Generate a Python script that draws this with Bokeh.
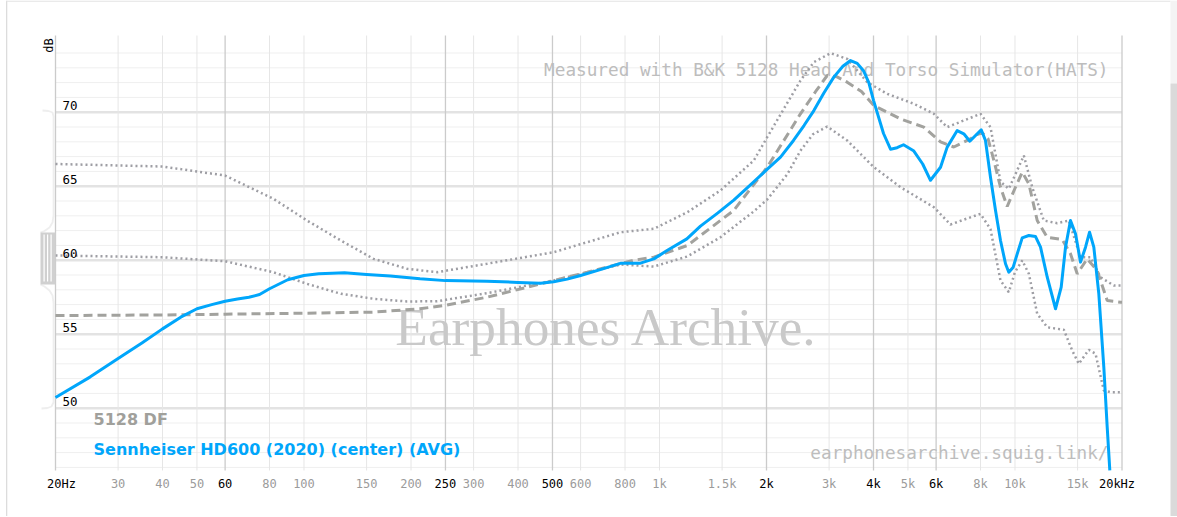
import math
from bokeh.plotting import figure
from bokeh.models import (Range1d, Label, LabelSet, ColumnDataSource,
                          PolyAnnotation, BoxAnnotation)
from bokeh.core.properties import value
from bokeh.embed import file_html
from bokeh.resources import INLINE

# ---------------- data ----------------
hd600_freq = [20, 25, 30, 35, 40, 45, 50, 55, 60, 65, 70, 75, 80, 90, 100, 110, 120, 130,
              150, 175, 212, 250, 327, 400, 463, 504, 550, 600, 700, 780, 884, 964, 1050,
              1194, 1304, 1460, 1618, 1838, 2000, 2190, 2382, 2550, 2718, 2900, 3093, 3280,
              3447, 3600, 3749, 3880, 4000, 4268, 4466, 4660, 4858, 5183, 5500, 5785, 6174,
              6446, 6878, 7178, 7464, 7744, 8036, 8260, 8533, 8816, 9105, 9405, 9608, 9886,
              10146, 10481, 10940, 11424, 11800, 12324, 13003, 13490, 13872, 14326, 14800,
              15288, 15792, 16208, 16664, 17212, 17778, 18174, 18482]
hd600_db = [50.72, 52.1, 53.36, 54.4, 55.36, 56.15, 56.72, 57.0, 57.23, 57.38, 57.5, 57.68,
            58.07, 58.68, 58.97, 59.08, 59.12, 59.15, 59.03, 58.93, 58.74, 58.62, 58.58, 58.5,
            58.45, 58.54, 58.72, 58.97, 59.45, 59.8, 59.8, 60.09, 60.65, 61.44, 62.3, 63.2,
            64.06, 65.27, 66.1, 66.96, 68.09, 69.1, 70.11, 71.3, 72.37, 73.1, 73.49, 73.3,
            72.8, 72.0, 70.8, 68.56, 67.5, 67.6, 67.8, 67.4, 66.5, 65.4, 66.28, 67.64, 68.76,
            68.54, 68.04, 68.43, 68.81, 68.09, 65.6, 63.36, 61.33, 59.76, 59.19, 59.53, 60.43,
            61.51, 61.67, 61.6, 60.88, 58.85, 56.72, 58.18, 60.88, 62.68, 61.78, 59.87, 60.88,
            61.89, 60.88, 57.73, 52.77, 48.7, 45.8]

target_freq = [20, 40, 60, 100, 157, 212, 250, 327, 463, 626, 847, 964, 1197, 1617, 2009,
               2492, 2750, 2964, 3150, 3373, 3700, 4010, 4764, 5540, 6174, 6728, 7496, 7700,
               8100, 8400, 8722, 9105, 9508, 10030, 10481, 10940, 11549, 12324, 13577, 14326,
               14964, 15965, 17030, 18174, 19806, 20000]
target_db = [56.26, 56.3, 56.35, 56.42, 56.49, 56.72, 56.95, 57.5, 58.4, 59.19, 60.0, 60.2,
             60.99, 63.36, 66.28, 69.89, 71.4, 72.48, 72.4, 72.03, 71.4, 70.45, 69.55, 68.99,
             68.0, 67.65, 68.2, 68.43, 68.6, 68.2, 66.74, 64.93, 63.63, 64.93, 65.95, 65.16,
             62.68, 61.55, 61.4, 60.43, 59.08, 60.09, 59.3, 57.27, 57.16, 57.16]

upper_freq = [20, 40, 60, 82, 102, 127, 157, 195, 237, 327, 504, 777, 964, 1197, 1484, 1842,
              2009, 2492, 2718, 3028, 3373, 3840, 4372, 5193, 5913, 6446, 7178, 7998, 8533,
              9105, 9608, 10590, 11180, 12052, 13146, 14172, 15288, 16310, 17398, 18966, 20000]
upper_db = [66.5, 66.33, 65.72, 64.15, 62.68, 61.33, 60.09, 59.42, 59.19, 59.76, 60.54, 61.89,
            62.12, 63.24, 64.71, 66.74, 68.31, 72.14, 73.38, 73.99, 73.6, 72.03, 71.24, 70.57,
            69.89, 68.99, 69.44, 69.89, 68.99, 65.3, 64.82, 67.07, 64.93, 62.68, 62.5, 62.68,
            60.2, 60.2, 58.85, 58.29, 58.29]

lower_freq = [20, 40, 60, 82, 102, 127, 157, 195, 237, 327, 504, 777, 964, 1197, 1484, 1842,
              2009, 2287, 2492, 2700, 2964, 3373, 4010, 4764, 5913, 6586, 7300, 7998, 8533,
              9105, 9608, 10000, 10481, 10940, 11549, 12324, 13720, 14486, 15120, 16130,
              16846, 17778, 18566, 20000]
lower_db = [60.32, 60.2, 59.93, 59.19, 58.4, 57.73, 57.39, 57.21, 57.23, 57.77, 58.63, 59.71,
            59.57, 60.25, 61.55, 63.3, 64.1, 65.8, 67.4, 68.5, 69.03, 68.09, 66.28, 64.93,
            63.58, 62.41, 62.8, 63.13, 62.1, 58.63, 57.84, 59.2, 59.98, 59.08, 56.38, 55.47,
            55.3, 53.9, 53.0, 53.95, 53.68, 51.2, 51.08, 51.08]

x_ticks = [20, 30, 40, 50, 60, 80, 100, 150, 200, 250, 300, 400, 500, 600, 800, 1000, 1500,
           2000, 3000, 4000, 5000, 6000, 8000, 10000, 15000, 20000]
x_tick_labels = ["20Hz", "30", "40", "50", "60", "80", "100", "150", "200", "250", "300", "400",
                 "500", "600", "800", "1k", "1.5k", "2k", "3k", "4k", "5k", "6k", "8k", "10k",
                 "15k", "20kHz"]
x_dark_ticks = [20, 60, 250, 500, 2000, 4000, 6000, 20000]
y_major_ticks = [50, 55, 60, 65, 70]
y_minor_ticks = [d for d in range(46, 75) if d % 5 != 0]
y_tick_labels = ["50", "55", "60", "65", "70"]

legend_target = "5128 DF"
legend_phone = "Sennheiser HD600 (2020) (center) (AVG)"

# ---------------- layout (page pixels) ----------------
W, H = 1177, 516
X20_PX, X20K_PX = 55.0, 1121.5          # where 20 Hz / 20 kHz sit
Y70_PX, PX_PER_DB = 111.7, 14.8          # where 70 dB sits, pixels per dB
TOP_PX, BOT_PX = 35.0, 470.0             # plot area top / bottom
DEC = (X20K_PX - X20_PX) / 3.0
x_start = 20 * 10 ** (-X20_PX / DEC)
x_end = 20000 * 10 ** ((W - X20K_PX) / DEC)
y_top = 70 + Y70_PX / PX_PER_DB
y_bottom = 70 - (H - Y70_PX) / PX_PER_DB
y_lo = 70 - (BOT_PX - Y70_PX) / PX_PER_DB
y_hi = 70 + (Y70_PX - TOP_PX) / PX_PER_DB


def sy(page_y):
    return H - page_y


# ---------------- style ----------------
BLUE = "#00a6fb"
DASH_GRAY = "#a2a29e"
DOT_GRAY = "#9e9ea4"
MONO_NAME = "DejaVu Sans Mono"
MONO = value(MONO_NAME)

p = figure(width=W, height=H, min_border=0,
           x_axis_type="log", x_range=Range1d(x_start, x_end),
           y_range=Range1d(y_bottom, y_top),
           x_axis_location=None, y_axis_location=None,
           toolbar_location=None, output_backend="svg",
           outline_line_color=None, background_fill_color="white", border_fill_color="white")
p.xgrid.visible = False
p.ygrid.visible = False

# page chrome: border lines and scrollbar
p.add_layout(BoxAnnotation(left=5.5, right=6.8, top=sy(0), bottom=sy(H), left_units="screen",
                           right_units="screen", top_units="screen", bottom_units="screen",
                           fill_color="#dcdcdc", fill_alpha=1, line_color=None, level="image"))
p.add_layout(BoxAnnotation(left=6, right=1170, top=sy(0), bottom=sy(1.3), left_units="screen",
                           right_units="screen", top_units="screen", bottom_units="screen",
                           fill_color="#e3e3e3", fill_alpha=1, line_color=None, level="image"))
p.add_layout(BoxAnnotation(left=1170, right=W, top=sy(0), bottom=sy(83), left_units="screen",
                           right_units="screen", top_units="screen", bottom_units="screen",
                           fill_color="#f4f4f4", fill_alpha=1, line_color=None, level="image"))
p.add_layout(BoxAnnotation(left=1170, right=W, top=sy(83), bottom=sy(H), left_units="screen",
                           right_units="screen", top_units="screen", bottom_units="screen",
                           fill_color="#dadada", fill_alpha=1, line_color=None, level="image"))

# grid
light_x = [t for t in x_ticks if t not in x_dark_ticks]
p.segment(x0=[20] * len(y_minor_ticks), x1=[20000] * len(y_minor_ticks), y0=y_minor_ticks,
          y1=y_minor_ticks, line_color="#efefef", line_width=1, level="image")
p.segment(x0=[20] * len(y_major_ticks), x1=[20000] * len(y_major_ticks), y0=y_major_ticks,
          y1=y_major_ticks, line_color="#e3e3e3", line_width=2.6, level="image")
p.segment(x0=light_x, x1=light_x, y0=[y_lo] * len(light_x), y1=[y_hi] * len(light_x),
          line_color="#e6e6e6", line_width=1, level="image")
p.segment(x0=x_dark_ticks, x1=x_dark_ticks, y0=[y_lo] * len(x_dark_ticks),
          y1=[y_hi] * len(x_dark_ticks), line_color="#cbcbcb", line_width=1.3, level="image")

# watermark / notes (under the curves)
p.add_layout(Label(x=606.5, y=sy(327), x_units="screen", y_units="screen",
                   text="Earphones Archive.", text_font="Liberation Serif",
                   text_font_size="53.3px", text_color="#c9c9c9", text_align="center",
                   text_baseline="middle", level="underlay"))
p.add_layout(Label(x=1108, y=sy(69), x_units="screen", y_units="screen",
                   text="Measured with B&K 5128 Head And Torso Simulator(HATS)",
                   text_font=MONO_NAME, text_font_size="17.7px", text_color="#bdbdbd",
                   text_align="right", text_baseline="middle", level="underlay"))
p.add_layout(Label(x=1108, y=sy(452), x_units="screen", y_units="screen",
                   text="earphonesarchive.squig.link/",
                   text_font=MONO_NAME, text_font_size="17.7px", text_color="#bdbdbd",
                   text_align="right", text_baseline="middle", level="underlay"))

# curves
p.line(lower_freq, lower_db, line_color=DOT_GRAY, line_width=2.5, line_dash="2 3")
p.line(upper_freq, upper_db, line_color=DOT_GRAY, line_width=2.5, line_dash="2 3")
p.line(target_freq, target_db, line_color=DASH_GRAY, line_width=3, line_dash="9 5")
p.line(hd600_freq, hd600_db, line_color=BLUE, line_width=3, line_join="round")

# x tick labels
tick_colors = ["#000000" if t in x_dark_ticks else "#9b9b9b" for t in x_ticks]
tick_off = [6 if lab == "20Hz" else (-5 if lab == "20kHz" else 0) for lab in x_tick_labels]
xsrc = ColumnDataSource(dict(x=x_ticks, y=[sy(483)] * len(x_ticks), text=x_tick_labels,
                             color=tick_colors, off=tick_off))
p.add_layout(LabelSet(x="x", y="y", y_units="screen", text="text", text_color="color",
                      x_offset="off", source=xsrc, text_align="center",
                      text_baseline="middle", text_font=MONO, text_font_size="12px"))

# y tick labels
ysrc = ColumnDataSource(dict(x=[62] * len(y_major_ticks), y=y_major_ticks, text=y_tick_labels))
p.add_layout(LabelSet(x="x", y="y", x_units="screen", text="text", source=ysrc,
                      y_offset=7, text_align="left", text_baseline="middle",
                      text_color="#000000", text_font=MONO, text_font_size="12.5px"))
p.add_layout(Label(x=48, y=sy(45), x_units="screen", y_units="screen", text="dB",
                   angle=math.pi / 2, text_align="center", text_baseline="middle",
                   text_font=MONO_NAME, text_font_size="12px", text_color="#000000"))

# legend
p.add_layout(Label(x=93, y=sy(419), x_units="screen", y_units="screen", text=legend_target,
                   text_font="DejaVu Sans", text_font_style="bold",
                   text_font_size="16px", text_color="#a0a09b", text_baseline="middle"))
p.add_layout(Label(x=93, y=sy(448.5), x_units="screen", y_units="screen", text=legend_phone,
                   text_font="DejaVu Sans", text_font_style="bold",
                   text_font_size="16px", text_color=BLUE, text_baseline="middle"))

# scale handle decoration left of the plot
top_path = [(42, 110), (48, 110.5), (52, 112), (53, 116), (53, 215), (52, 222), (49, 227),
            (44, 230.5), (40, 232)]
bot_path = [(40, 284), (44, 286), (49, 290), (52, 295), (53, 302), (53, 402), (51, 406),
            (47, 407.5), (41, 408)]
for path in (top_path, bot_path):
    xs = [a for a, b in path] + [a for a, b in reversed(path)]
    ys = [sy(b) for a, b in path] + [sy(b) for a, b in reversed(path)]
    p.add_layout(PolyAnnotation(xs=xs, ys=ys, xs_units="screen", ys_units="screen",
                                fill_alpha=0, line_color="#c8c8c8", line_width=1.8))
p.add_layout(BoxAnnotation(left=40, right=55, top=sy(232), bottom=sy(284), left_units="screen",
                           right_units="screen", top_units="screen", bottom_units="screen",
                           fill_color="#d0d0d0", fill_alpha=1, line_color=None))
for sx in (43, 46.5, 50):
    p.add_layout(BoxAnnotation(left=sx, right=sx + 1.2, top=sy(234), bottom=sy(281),
                               left_units="screen", right_units="screen", top_units="screen",
                               bottom_units="screen", fill_color="white", fill_alpha=1,
                               line_color=None))

open("out.html", "w").write(file_html(p, INLINE))
